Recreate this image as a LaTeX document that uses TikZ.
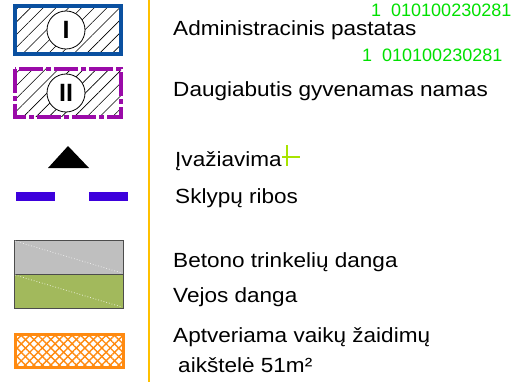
\documentclass[tikz,border=0pt]{standalone}
\usepackage{fontspec}
\setmainfont{Liberation Sans}
\usetikzlibrary{patterns.meta}

\definecolor{admblue}{HTML}{0A50A0}
\definecolor{resviolet}{HTML}{9A0AA8}
\definecolor{ribosblue}{HTML}{3D00DC}
\definecolor{axisgold}{HTML}{FFC000}
\definecolor{pavegray}{HTML}{BFBFBF}
\definecolor{lawngreen}{HTML}{A2B95C}
\definecolor{playorange}{HTML}{FF8A10}
\definecolor{codegreen}{HTML}{00E000}
\definecolor{limemark}{HTML}{A8E400}

\begin{document}
\begin{tikzpicture}[x=1pt, y=-1pt,
  legtext/.style={anchor=base west, inner sep=0pt,
    font=\fontsize{20.5}{24}\selectfont, xscale=1.1},
  codetext/.style={anchor=base west, inner sep=0pt, text=codegreen,
    font=\fontsize{18}{22}\selectfont},
  bldnum/.style={circle, draw=black, thick, fill=white, minimum size=38pt,
    inner sep=0pt, font=\fontsize{25}{25}\selectfont\bfseries},
  hatchfill/.style={pattern={Lines[angle=45, distance=9pt, line width=0.6pt]}}]

  \useasboundingbox (0,0) rectangle (518,382);

  % Separator between the symbols and their captions.
  \draw[axisgold, line width=2pt] (149,0) -- (149,382);

  % Administrative building: hatched box with roman numeral I.
  \draw[hatchfill, draw=admblue, line width=4pt] (15,6) rectangle (121,54);
  \node[bldnum] (admnum) at (66,30) {I};

  % Multi-flat residential building.
  \draw[hatchfill, draw=resviolet, line width=4pt,
    dash pattern=on 24pt off 3pt on 5pt off 3pt] (15,69) rectangle (121,117);
  \node[bldnum] (resnum) at (66,93) {II};

  % Entrance marker.
  \fill[black] (48,168) -- (68,146) -- (89,168) -- cycle;

  % Plot boundary dashes.
  \fill[ribosblue] (16,192) rectangle (55,201);
  \fill[ribosblue] (89,192) rectangle (128,201);

  % Paving and lawn surfaces.
  \draw[fill=pavegray, draw=black!70, line width=1pt] (14,240) rectangle (123,274);
  \draw[white!85!gray, dotted, line width=0.8pt] (15,241) -- (122,273);
  \draw[fill=lawngreen, draw=black!70, line width=1pt] (14,274) rectangle (123,308);
  \draw[white!75!lawngreen, dotted, line width=0.8pt] (15,275) -- (122,307);

  % Fenced playground.
  \draw[pattern={Lines[angle=45, distance=6pt, line width=1.4pt]},
    pattern color=playorange, draw=playorange, line width=3pt] (15,334) rectangle (123,367);
  \draw[pattern={Lines[angle=-45, distance=6pt, line width=1.4pt]},
    pattern color=playorange, draw=playorange, line width=3pt] (15,334) rectangle (123,367);

  % Captions.
  \node[codetext] (admcode) at (371,17) {1\ \ 010100230281};
  \node[legtext] (admtext) at (173,36) {Administracinis pastatas};
  \node[codetext] (rescode) at (362,62) {1\ \ 010100230281};
  \node[legtext] (restext) at (173,97) {Daugiabutis gyvenamas namas};
  \node[legtext] (entrtext) at (175,166) {Įvažiavima};
  \draw[limemark, line width=1.2pt] (287,145) -- (287,166);
  \draw[limemark, line width=1.2pt] (282,157) -- (300,157);
  \node[legtext] (plottext) at (175,203) {Sklypų ribos};
  \node[legtext] (pavetext) at (173,267) {Betono trinkelių danga};
  \node[legtext] (lawntext) at (173,302) {Vejos danga};
  \node[legtext] (playtext) at (173,342) {Aptveriama vaikų žaidimų};
  \node[legtext] (areatext) at (178,372) {aikštelė 51m²};
\end{tikzpicture}
\end{document}
